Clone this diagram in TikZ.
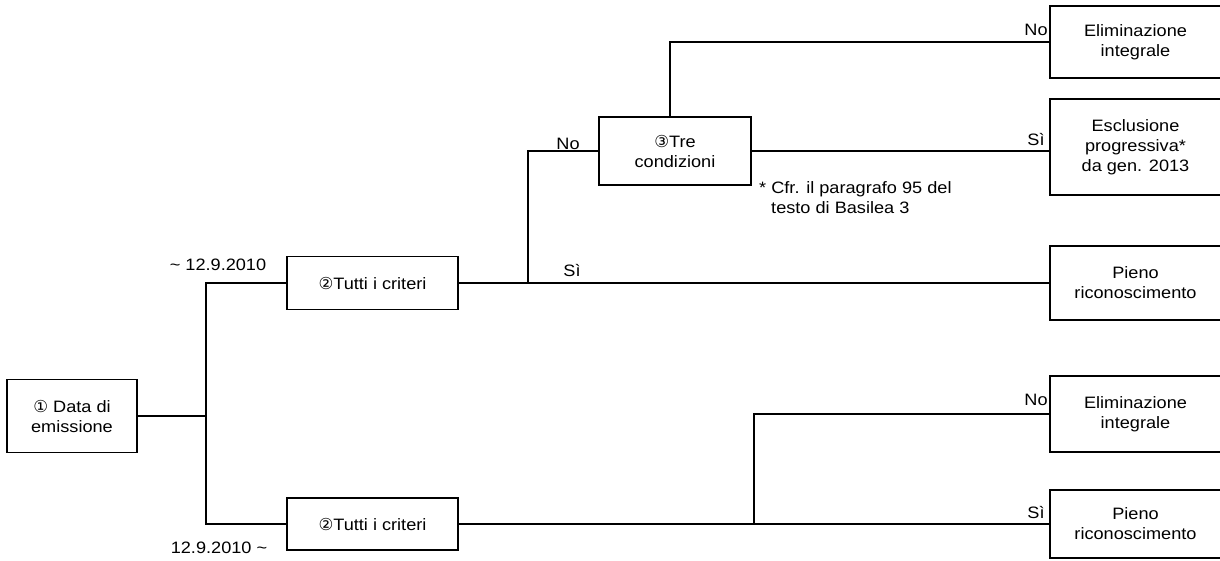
\documentclass[tikz,border=0pt]{standalone}
\usepackage{fontspec}
\setmainfont{Liberation Sans}[FakeStretch=1.1]
\newfontfamily\circfont{DejaVu Sans}[FakeStretch=1.0]
\begin{document}
\begin{tikzpicture}[x=1pt,y=-1pt,
  every node/.style={font=\fontsize{16.5}{20}\selectfont, inner sep=0pt},
  box/.style={draw, line width=1.8pt, align=center},
  conn/.style={line width=1.6pt},
  lbl/.style={}]
\useasboundingbox (0,0) rectangle (1220,560);
% nodes
\node[box, minimum width=130pt, minimum height=73pt] (root) at (72,416) {{\circfont\char"2460} Data di\\emissione};
\node[box, minimum width=171pt, minimum height=53pt] (t1) at (372.5,283) {{\circfont\char"2461}Tutti i criteri};
\node[box, minimum width=171pt, minimum height=52pt] (t2) at (372.5,524) {{\circfont\char"2461}Tutti i criteri};
\node[box, minimum width=152pt, minimum height=68pt] (tre) at (675,151) {{\circfont\char"2462}Tre\\condizioni};
\node[box, minimum width=171pt, minimum height=72pt] (e1) at (1135.5,42) {Eliminazione\\integrale};
\node[box, minimum width=171pt, minimum height=96pt] (e2) at (1135.5,147) {Esclusione\\progressiva*\\da gen. 2013};
\node[box, minimum width=171pt, minimum height=74pt] (p1) at (1135.5,283) {Pieno\\riconoscimento};
\node[box, minimum width=171pt, minimum height=76pt] (e3) at (1135.5,414) {Eliminazione\\integrale};
\node[box, minimum width=171pt, minimum height=68pt] (p2) at (1135.5,524) {Pieno\\riconoscimento};
% junction coordinates
\coordinate (ja) at (206,0);
\coordinate (jb) at (528,0);
\coordinate (jc) at (754,0);
% connectors
\draw[conn] (root.east) -- (root.east -| ja);
\draw[conn] (t1.west) -| (ja |- t2.west) -- (t2.west);
\draw[conn] (t1.east) -- (p1.west);
\draw[conn] (jb |- t1.east) |- (tre.west);
\draw[conn] ([xshift=-5pt]tre.north) |- (e1.west);
\draw[conn] (tre.east) -- (tre.east -| e2.west);
\draw[conn] (t2.east) -- (t2.east -| p2.west);
\draw[conn] (jc |- t2.east) |- (e3.west);
% labels
\node[lbl] (d1) at (218,265) {\char"007E\ 12.9.2010};
\node[lbl] (d2) at (219,548) {12.9.2010 \char"007E};
\node[lbl] (no1) at (568,144) {No};
\node[lbl] (si1) at (572,270) {Sì};
\node[lbl] (no2) at (1036,30) {No};
\node[lbl] (si2) at (1036,140) {Sì};
\node[lbl] (no3) at (1036,400) {No};
\node[lbl] (si3) at (1036,512) {Sì};
\node[lbl, align=left, anchor=north west] (fn) at (759,181) {* Cfr. il paragrafo 95 del\\\hspace*{12pt}testo di Basilea 3};
\end{tikzpicture}
\end{document}
